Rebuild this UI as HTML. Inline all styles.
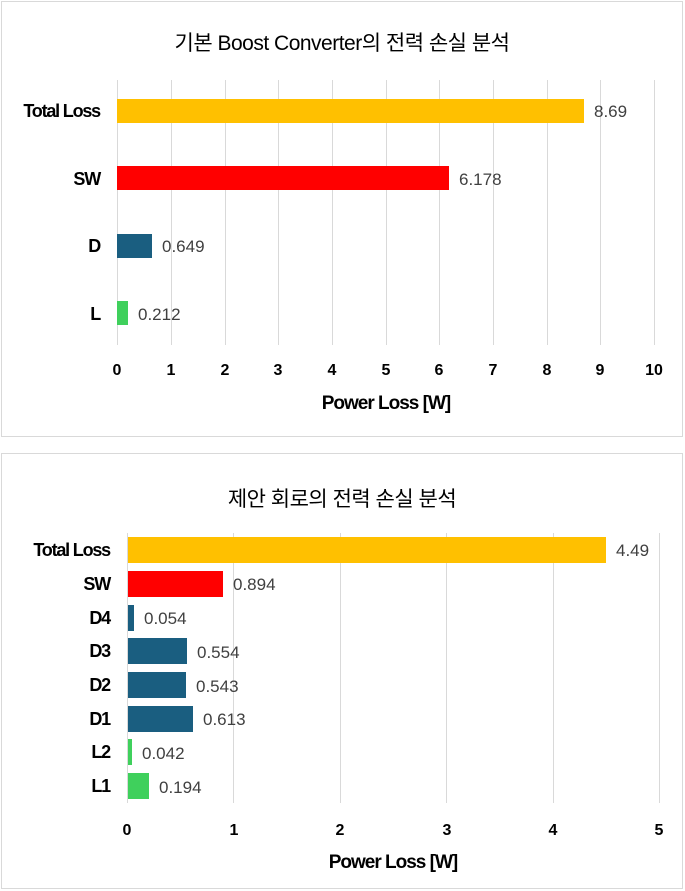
<!DOCTYPE html>
<html><head><meta charset="utf-8"><style>
body{margin:0;background:#fff;}
svg{display:block;font-family:"Liberation Sans","Noto Sans CJK KR",sans-serif;}
.c{font-size:18px;fill:#000;font-weight:bold;letter-spacing:-1.2px;text-anchor:end;}
.t{font-size:16px;fill:#000;font-weight:bold;text-anchor:middle;}
.v{font-size:17px;fill:#404040;}
.ti{font-size:21px;fill:#000;text-anchor:middle;letter-spacing:-0.5px;}
.ax{font-size:19px;fill:#000;font-weight:bold;text-anchor:middle;letter-spacing:-1px;}
.g{stroke:#d9d9d9;stroke-width:1;}
</style></head><body>
<svg width="685" height="891" viewBox="0 0 685 891">
<rect x="1.5" y="1.5" width="681" height="435" fill="#fff" stroke="#d9d9d9"/>
<rect x="1.5" y="453.5" width="681" height="435" fill="#fff" stroke="#d9d9d9"/>
<text class="ti" x="342" y="50">기본 Boost Converter의 전력 손실 분석</text>
<g class="g">
<line x1="117.5" y1="80" x2="117.5" y2="345"/><line x1="171.5" y1="80" x2="171.5" y2="345"/><line x1="225.5" y1="80" x2="225.5" y2="345"/><line x1="278.5" y1="80" x2="278.5" y2="345"/><line x1="332.5" y1="80" x2="332.5" y2="345"/><line x1="386.5" y1="80" x2="386.5" y2="345"/><line x1="439.5" y1="80" x2="439.5" y2="345"/><line x1="493.5" y1="80" x2="493.5" y2="345"/><line x1="547.5" y1="80" x2="547.5" y2="345"/><line x1="600.5" y1="80" x2="600.5" y2="345"/><line x1="654.5" y1="80" x2="654.5" y2="345"/>
</g>
<rect x="117" y="99" width="467" height="24" fill="#ffc000"/>
<rect x="117" y="166" width="332" height="24" fill="#ff0000"/>
<rect x="117" y="234" width="35" height="24" fill="#1a5e80"/>
<rect x="117" y="301" width="11" height="24" fill="#3fd05c"/>
<text class="c" x="100" y="117">Total Loss</text>
<text class="c" x="100" y="185">SW</text>
<text class="c" x="100" y="252">D</text>
<text class="c" x="100" y="320">L</text>
<text class="v" x="594" y="117">8.69</text>
<text class="v" x="459" y="185">6.178</text>
<text class="v" x="162" y="252">0.649</text>
<text class="v" x="138" y="320">0.212</text>
<g class="t">
<text x="117" y="375">0</text><text x="171" y="375">1</text><text x="225" y="375">2</text><text x="278" y="375">3</text><text x="332" y="375">4</text><text x="386" y="375">5</text><text x="439" y="375">6</text><text x="493" y="375">7</text><text x="547" y="375">8</text><text x="600" y="375">9</text><text x="654" y="375">10</text>
</g>
<text class="ax" x="386" y="409">Power Loss [W]</text>
<text class="ti" x="342" y="506">제안 회로의 전력 손실 분석</text>
<g class="g">
<line x1="127.5" y1="533" x2="127.5" y2="803"/><line x1="233.5" y1="533" x2="233.5" y2="803"/><line x1="340.5" y1="533" x2="340.5" y2="803"/><line x1="446.5" y1="533" x2="446.5" y2="803"/><line x1="553.5" y1="533" x2="553.5" y2="803"/><line x1="659.5" y1="533" x2="659.5" y2="803"/>
</g>
<rect x="128" y="537" width="478" height="26" fill="#ffc000"/>
<rect x="128" y="571" width="95" height="26" fill="#ff0000"/>
<rect x="128" y="605" width="6" height="26" fill="#1a5e80"/>
<rect x="128" y="638" width="59" height="26" fill="#1a5e80"/>
<rect x="128" y="672" width="58" height="26" fill="#1a5e80"/>
<rect x="128" y="706" width="65" height="26" fill="#1a5e80"/>
<rect x="128" y="739" width="4" height="26" fill="#3fd05c"/>
<rect x="128" y="773" width="21" height="26" fill="#3fd05c"/>
<text class="c" x="110" y="556">Total Loss</text>
<text class="c" x="110" y="590">SW</text>
<text class="c" x="110" y="624">D4</text>
<text class="c" x="110" y="657">D3</text>
<text class="c" x="110" y="691">D2</text>
<text class="c" x="110" y="725">D1</text>
<text class="c" x="110" y="758">L2</text>
<text class="c" x="110" y="792">L1</text>
<text class="v" x="616" y="556">4.49</text>
<text class="v" x="233" y="590">0.894</text>
<text class="v" x="144" y="624">0.054</text>
<text class="v" x="197" y="658">0.554</text>
<text class="v" x="196" y="692">0.543</text>
<text class="v" x="203" y="725">0.613</text>
<text class="v" x="142" y="759">0.042</text>
<text class="v" x="159" y="793">0.194</text>
<g class="t">
<text x="127" y="835">0</text><text x="234" y="835">1</text><text x="340" y="835">2</text><text x="447" y="835">3</text><text x="553" y="835">4</text><text x="659" y="835">5</text>
</g>
<text class="ax" x="393" y="868">Power Loss [W]</text>
</svg>
</body></html>
